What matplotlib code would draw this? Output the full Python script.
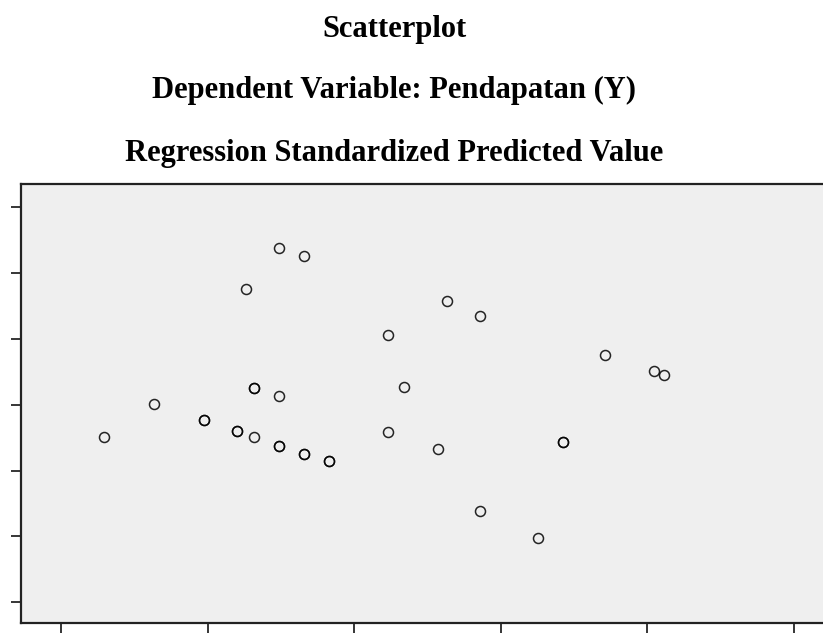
import numpy as np
import matplotlib
matplotlib.use("Agg")
import matplotlib.pyplot as plt

# standardized predicted value (x) vs studentized residual (y)
pred = [-0.512, -0.339, -0.739, 0.633, 0.232, -0.683, -0.683, -0.512, 0.343, -1.367,
        -1.024, -1.024, -0.799, -0.799, -0.683, -1.709, -0.512, -0.512, -0.339, -0.339,
        -0.169, -0.169, 0.232, 0.573, 0.858, 1.713, 2.050, 2.114, 1.427, 1.427,
        0.858, 1.258]
resid = [2.383, 2.266, 1.764, 1.571, 1.054, 0.254, 0.254, 0.137, 0.274, 0.015,
         -0.239, -0.239, -0.406, -0.406, -0.491, -0.491, -0.623, -0.623, -0.749, -0.749,
         -0.856, -0.856, -0.410, -0.669, 1.349, 0.760, 0.506, 0.456, -0.567, -0.567,
         -1.612, -2.027]
xticks = [-2, -1, 0, 1, 2, 3]
yticks = [-3, -2, -1, 0, 1, 2, 3]

W, H = 823, 633
fig = plt.figure(figsize=(W/100, H/100), dpi=100)

titles = ["Scatterplot", "Dependent Variable: Pendapatan (Y)", "Regression Standardized Predicted Value"]
title_base = [37, 98, 161]   # baselines in px from top
for t, yy in zip(titles, title_base):
    fig.text(394/W, 1 - yy/H, t, ha='center', va='baseline', fontsize=22,
             fontweight='bold', family='Liberation Serif')

left, right, top, bottom = 20.7, 837.5, 183.5, 622.7
ax = fig.add_axes([left/W, 1 - bottom/H, (right-left)/W, (bottom-top)/H])
ax.set_facecolor('#efefef')
ax.plot(pred, resid, 'o', ms=7.2, mfc='none', mec='black', mew=1.1, alpha=0.85, clip_on=False)

ax.set_xlim(-2.275, 3.3)
ax.set_ylim(-3.31, 3.36)
ax.set_xticks(xticks)
ax.set_yticks(yticks)
ax.set_xticklabels([])
ax.set_yticklabels([])
ax.tick_params(direction='out', length=7.5, width=1.1, color='black')
for s in ax.spines.values():
    s.set_linewidth(1.6)
    s.set_color('#222222')

fig.savefig("out.png", dpi=100)
